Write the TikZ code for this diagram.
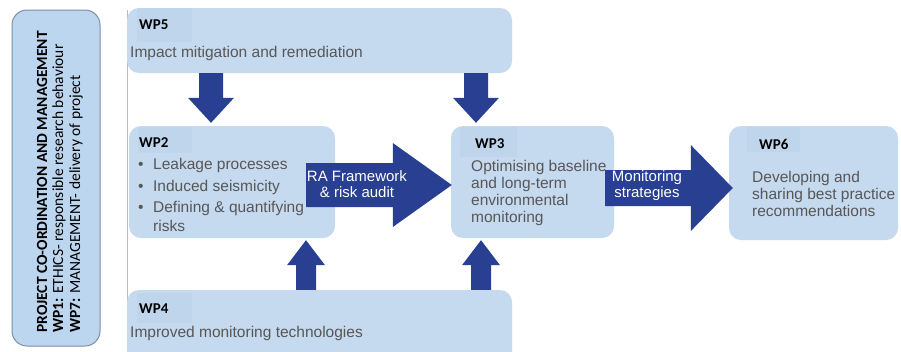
\documentclass[tikz,border=0pt]{standalone}
\usepackage{fontspec}
\setmainfont{Liberation Sans}
\newfontfamily\wpfont{Carlito}
\usetikzlibrary{calc}

\definecolor{boxblue}{HTML}{C5D9EF}
\definecolor{tabblue}{HTML}{BFD5EC}
\definecolor{sideblue}{HTML}{BDD6F0}
\definecolor{sideedge}{HTML}{7D8FA3}
\definecolor{arrowblue}{HTML}{283F92}
\definecolor{bodygray}{HTML}{575757}
\definecolor{rulegray}{HTML}{BBBBBB}

% block arrow: tail, tip, shaft half-width, head half-width, head length
\newcommand\blockarrow[5]{%
  \path ($(#2)!#5!(#1)$) coordinate (ahb);
  \fill[arrowblue] ($(#1)!#3!90:(#2)$) -- ($(ahb)!#3!90:(#2)$) -- ($(ahb)!#4!90:(#2)$)
    -- (#2) -- ($(ahb)!#4!-90:(#2)$) -- ($(ahb)!#3!-90:(#2)$) -- ($(#1)!#3!-90:(#2)$) -- cycle;}

% bullet line with the text starting at a fixed indent
\newcommand\bul[1]{\makebox[15pt][l]{\textbullet}#1}

\begin{document}
\begin{tikzpicture}[x=1pt,y=-1pt,
  box/.style={fill=boxblue, rounded corners=12pt, inner sep=0pt},
  tab/.style={fill=tabblue},
  wp/.style={font=\wpfont\bfseries\fontsize{15}{18}\selectfont, text=black, anchor=west, inner sep=0pt},
  body/.style={font=\fontsize{15.5}{17}\selectfont, text=bodygray, anchor=west, inner sep=0pt, align=left},
  arrowtxt/.style={font=\fontsize{15}{16}\selectfont, text=white, inner sep=0pt, align=center},
  side/.style={font=\wpfont\fontsize{15.5}{18}\selectfont, text=black, anchor=west, inner sep=0pt, rotate=90}]

\useasboundingbox[fill=white] (0,0) rectangle (901,351);

% left rule of the work-package area
\draw[rulegray, line width=1pt] (127,10) -- (127,351);

% project co-ordination panel
\node[draw=sideedge, line width=1pt, fill=sideblue, rounded corners=15pt, minimum width=88pt, minimum height=336pt, inner sep=0pt] (side) at (56,178) {};
\node[side] (s1) at (42,333) {\bfseries PROJECT CO-ORDINATION AND MANAGEMENT};
\node[side] (s2) at (59,333) {\bfseries WP1:\mdseries{} ETHICS- responsible research behaviour};
\node[side] (s3) at (76,333) {\bfseries WP7:\mdseries{} MANAGEMENT- delivery of project};

% work-package boxes
\node[box, minimum width=385pt, minimum height=65pt] (wp5) at (319.5,40.5) {};
\node[box, minimum width=206pt, minimum height=112pt] (wp2) at (232,182) {};
\node[box, minimum width=163pt, minimum height=112pt] (wp3) at (532.5,182) {};
\node[box, minimum width=169pt, minimum height=114pt] (wp6) at (813.5,183) {};
\node[box, minimum width=385pt, minimum height=74pt] (wp4) at (319.5,327) {};

% header tabs
\fill[tab] (137,8) rectangle (192,42);
\fill[tab] (138,127) rectangle (192,153);
\fill[tab] (460,127) rectangle (517,157);
\fill[tab] (747,127) rectangle (800,152);
\fill[tab] (137,293) rectangle (192,323);

% arrow columns
\path (211,0) coordinate (colA) (476,0) coordinate (colB) (306,0) coordinate (colC) (481,0) coordinate (colD);

% WP5 feeds WP2 and WP3
\coordinate (d1s) at (wp5.south -| colA);
\coordinate (d1e) at ($(wp2.north -| colA)+(0,-3)$);
\coordinate (d2s) at (wp5.south -| colB);
\coordinate (d2e) at ($(wp3.north -| colB)+(0,-3)$);
\blockarrow{d1s}{d1e}{12pt}{23pt}{25pt}
\blockarrow{d2s}{d2e}{12pt}{23pt}{25pt}

% WP4 feeds WP2 and WP3
\coordinate (u1s) at (wp4.north -| colC);
\coordinate (u1e) at ($(wp2.south -| colC)+(0,2)$);
\coordinate (u2s) at (wp4.north -| colD);
\coordinate (u2e) at ($(wp3.south -| colD)+(0,2)$);
\blockarrow{u1s}{u1e}{10pt}{19pt}{25pt}
\blockarrow{u2s}{u2e}{10pt}{19pt}{25pt}

% WP2 -> WP3 -> WP6
\coordinate (r1s) at ($(wp2.east)+(-29,3)$);
\coordinate (r1e) at ($(wp3.west)+(1,3)$);
\coordinate (r2s) at ($(wp3.east)+(-9,6)$);
\coordinate (r2e) at ($(wp6.west)+(4,5)$);
\blockarrow{r1s}{r1e}{22pt}{42pt}{59pt}
\blockarrow{r2s}{r2e}{18pt}{43pt}{42pt}

\node[arrowtxt] (ra) at (357,184) {RA Framework\\\& risk audit};
\node[arrowtxt] (ms) at (647,186) {Monitoring\\strategies};

% texts
\node[wp] (t5) at (139,25) {WP5};
\node[body] (b5) at (130,53) {Impact mitigation and remediation};

\node[wp] (t2) at (139,143) {WP2};
\node[body] (b2a) at (138,165) {\bul{Leakage processes}};
\node[body] (b2b) at (138,187) {\bul{Induced seismicity}};
\node[body] (b2c) at (138,208) {\bul{Defining \& quantifying}};
\node[body] (b2d) at (153,226) {risks};

\node[wp] (t3) at (475,144) {WP3};
\node[body, anchor=north west] (b3) at (471,160) {Optimising baseline\\and long-term\\environmental\\monitoring};

\node[wp] (t6) at (759,144) {WP6};
\node[body, anchor=north west] (b6) at (752,171) {Developing and\\sharing best practice\\recommendations};

\node[wp] (t4) at (139,309) {WP4};
\node[body] (b4) at (130,333) {Improved monitoring technologies};
\end{tikzpicture}
\end{document}
